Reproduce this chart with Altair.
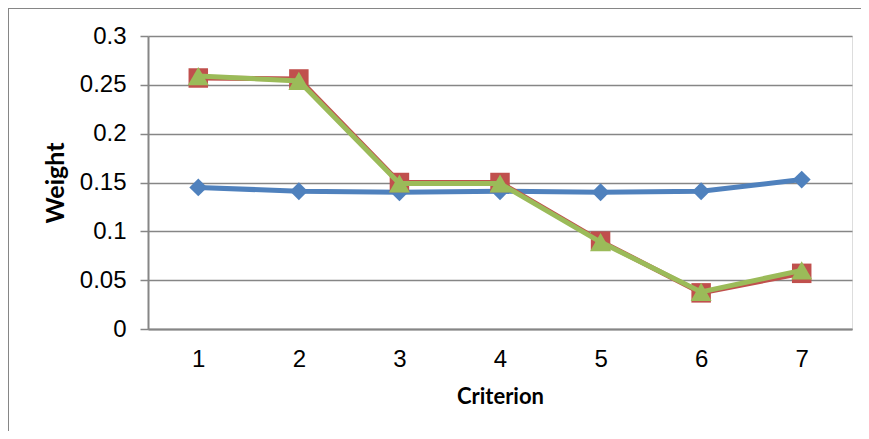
import altair as alt
import pandas as pd

criteria = [1, 2, 3, 4, 5, 6, 7]
series_names = ["Series A", "Series B", "Series C"]
blue_vals = [0.145, 0.141, 0.140, 0.141, 0.140, 0.141, 0.153]
red_vals = [0.257, 0.256, 0.150, 0.150, 0.090, 0.037, 0.057]
green_vals = [0.259, 0.254, 0.149, 0.149, 0.089, 0.038, 0.060]
y_ticks = [0, 0.05, 0.1, 0.15, 0.2, 0.25, 0.3]

colors = ["#4F81BD", "#C0504D", "#9BBB59"]
shapes = ["diamond", "square", "triangle-up"]
sizes = [320, 380, 440]

rows = []
for name, vals in zip(series_names, [blue_vals, red_vals, green_vals]):
    for c, v in zip(criteria, vals):
        rows.append({"criterion": c, "weight": v, "series": name})
df = pd.DataFrame(rows)

x_enc = alt.X("criterion:O", title="Criterion",
              axis=alt.Axis(labelAngle=0, ticks=False, labelPadding=18,
                            labelFontSize=24, labelFont="Liberation Sans",
                            labelColor="#000000", domainColor="#868686",
                            domainWidth=2, titleFont="Lato", titleFontSize=22,
                            titleFontWeight="bold", titlePadding=15,
                            titleColor="#000000", grid=False))
y_enc = alt.Y("weight:Q", title="Weight",
              scale=alt.Scale(domain=[0, 0.3], nice=False),
              axis=alt.Axis(values=y_ticks, format=".2~f", tickSize=8,
                            tickColor="#868686", tickWidth=1.5, labelPadding=14,
                            labelFontSize=24, labelFont="Liberation Sans",
                            labelColor="#000000", domainColor="#868686",
                            domainWidth=2, gridColor="#868686", gridWidth=1.5,
                            titleFont="Lato", titleFontSize=25,
                            titleFontWeight="bold", titlePadding=11,
                            titleColor="#000000"))

layers = []
for name, col, shp, sz in zip(series_names, colors, shapes, sizes):
    sub = df[df["series"] == name]
    line = alt.Chart(sub).mark_line(color=col, strokeWidth=5).encode(x=x_enc, y=y_enc)
    pts = alt.Chart(sub).mark_point(color=col, filled=True, opacity=1,
                                    shape=shp, size=sz).encode(x=x_enc, y=y_enc)
    layers += [line, pts]

border = alt.Chart(pd.DataFrame({"a": [0]})).mark_rect(
    fill=None, stroke="#868686", strokeWidth=2, clip=False
).encode(x=alt.value(-140), x2=alt.value(760), y=alt.value(-28), y2=alt.value(450))

chart = alt.layer(border, *layers).properties(
    width=704, height=293,
    padding={"left": 140, "top": 28, "right": 9, "bottom": 102},
    autosize=alt.AutoSizeParams(type="none"),
).configure_view(stroke=None).configure(background="white")

chart.save("out.html", embed_options={"renderer": "svg", "actions": False})
